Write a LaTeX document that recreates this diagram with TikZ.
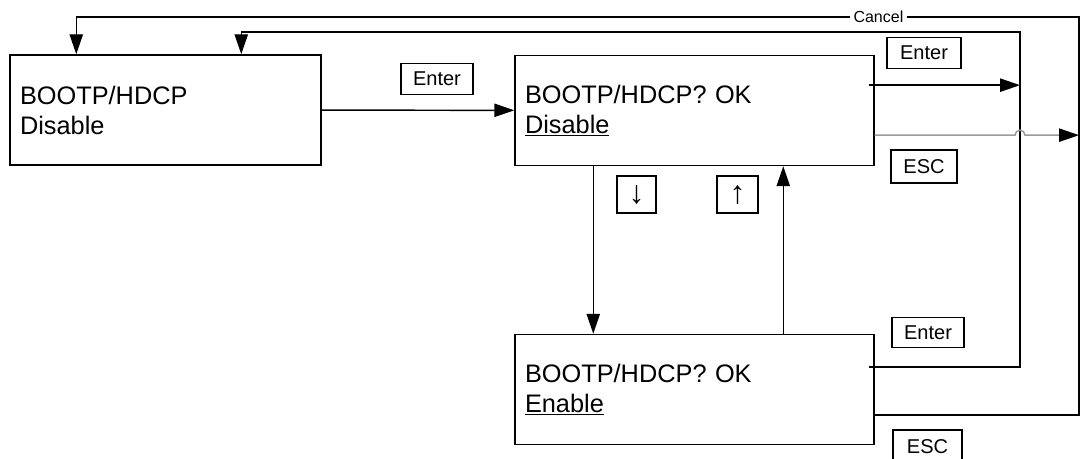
\documentclass[tikz,border=0pt]{standalone}
\usepackage{fontspec}
\setmainfont{Liberation Sans}
\usetikzlibrary{arrows.meta,calc,positioning}
\definecolor{EscGray}{RGB}{155,155,155}

\begin{document}
\begin{tikzpicture}[x=0.75pt,y=-0.75pt,>={Triangle[length=15pt,width=10pt]},line width=1.1pt,
  menu/.style={draw,minimum height=82.5pt,inner xsep=7.5pt,align=left,font=\fontsize{19}{22.5}\selectfont},
  key/.style={draw,line width=0.9pt,inner sep=0pt,minimum height=23pt,font=\fontsize{15}{18}\selectfont}]
\useasboundingbox (0,0) rectangle (1081,459);
\node[menu,minimum width=233.25pt,text width=218.25pt] (boot) at (165.5,110) {BOOTP/HDCP\\Disable};
\node[menu,minimum width=269.25pt,text width=254.25pt] (dis) at (694.5,110.5) {BOOTP/HDCP? OK\\\underline{Disable}};
\node[menu,minimum width=269.25pt,text width=254.25pt] (ena) at (694.5,389.5) {BOOTP/HDCP? OK\\\underline{Enable}};
% key labels
\node[key,minimum width=54pt] (kenter) at (437,79) {Enter};
\node[key,minimum width=55.5pt] (kenter2) at (924,53) {Enter};
\node[key,minimum width=49.5pt,minimum height=24.75pt] (kesc) at (924,166.5) {ESC};
\node[key,minimum width=54pt] (kenter3) at (928,332.5) {Enter};
\node[key,minimum width=51.75pt,minimum height=24.75pt] (kesc2) at (927.5,446.5) {ESC};
\node[key,minimum width=29.25pt,minimum height=27.75pt,font=\fontsize{24}{24}\selectfont] (kdown) at (636.5,194.5) {↓};
\node[key,minimum width=30.75pt,minimum height=27.75pt,font=\fontsize{24}{24}\selectfont] (kup) at (737.5,194.5) {↑};
\coordinate (back) at (1020,32);
\coordinate (cancel) at (1079,17);
\draw[->] (boot) -- (dis);
\draw[->] ([xshift=59.25pt]dis.south west) -- ([xshift=59.25pt]ena.north west);
\draw[->] ([xshift=201.75pt]ena.north west) -- ([xshift=201.75pt]dis.south west);
\draw[->] ([xshift=-4.5pt,yshift=19pt]dis.east) -- ([yshift=19pt]dis.east -| back);
\draw[->] ([xshift=-4.5pt,yshift=17pt]ena.east) -| (back) -| ([xshift=174pt]boot.north west);
\draw[EscGray,-{Triangle[length=15pt,width=10pt,black]}] ([yshift=-18.5pt]dis.east) -- ([xshift=-3.75pt,yshift=-18.5pt]dis.east -| back)
  arc[start angle=180,end angle=0,radius=3.75pt] -- ([yshift=-18.5pt]dis.east -| cancel);
\draw[->] ([yshift=-19pt]ena.east) -| (cancel)
  -| node[pos=0.1,fill=white,inner xsep=3pt,inner ysep=1pt,font=\fontsize{12}{14}\selectfont]{Cancel} ([xshift=50.25pt]boot.north west);
\end{tikzpicture}
\end{document}
